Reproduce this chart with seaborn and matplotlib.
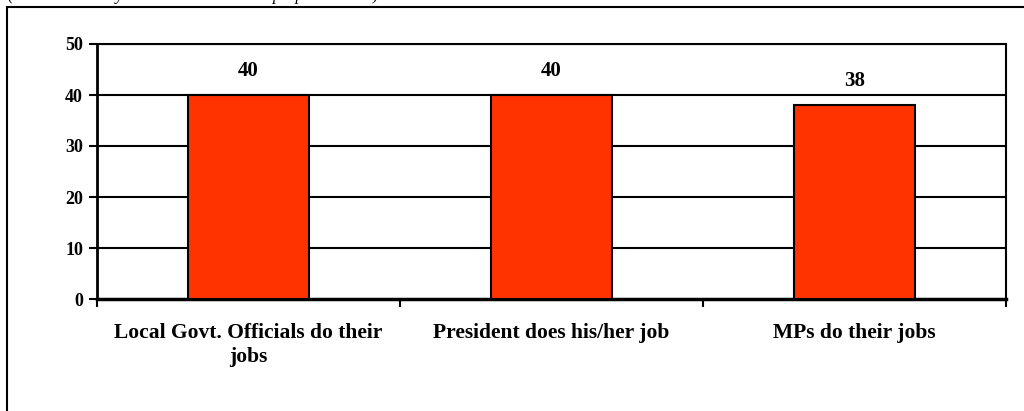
import matplotlib
matplotlib.use("Agg")
import matplotlib.pyplot as plt
from matplotlib.patches import Rectangle
import pandas as pd
import seaborn as sns

# data
categories = ["Local Govt. Officials do their\njobs",
              "President does his/her job",
              "MPs do their jobs"]
values = [40, 40, 38]
y_ticks = [0, 10, 20, 30, 40, 50]
note = "(Percent who say these leaders act in a proper manner)"

df = pd.DataFrame({"category": categories, "value": values})

sns.set_style("white")
plt.rcParams["font.family"] = ["Liberation Serif", "DejaVu Serif"]
plt.rcParams["text.color"] = "black"
plt.rcParams["xtick.color"] = "black"
plt.rcParams["ytick.color"] = "black"

fig = plt.figure(figsize=(10.24, 4.11), dpi=100)
ax = fig.add_axes([97 / 1024, 1 - 299 / 411, (1006 - 97) / 1024, (299 - 44) / 411])

sns.barplot(data=df, x="category", y="value", color="#FF3300", width=0.4,
            edgecolor="black", linewidth=1.5, saturation=1, ax=ax, zorder=3)

ax.set_ylim(0, 50)
ax.set_xlim(-0.5, len(categories) - 0.5)
ax.set_yticks(y_ticks)
ax.set_yticklabels([str(t) for t in y_ticks], fontsize=13, fontweight="bold")
for t in y_ticks[1:]:
    ax.axhline(t, color="black", lw=1.5, zorder=1)

# category ticks sit between the bars, labels centred under them
ax.set_xticks([i - 0.5 for i in range(len(categories) + 1)])
ax.set_xticklabels([])
ax.set_xticks(range(len(categories)), minor=True)
ax.set_xticklabels(categories, minor=True, fontsize=15.5, fontweight="bold",
                   linespacing=1.25)
ax.tick_params(axis="x", which="minor", length=0, pad=17.5)
ax.tick_params(axis="x", which="major", length=6, width=1.5, direction="out", bottom=True)
ax.tick_params(axis="y", length=6, width=1.5, direction="out", left=True, pad=4)
ax.set_xlabel("")
ax.set_ylabel("")

for s in ["left", "bottom", "right", "top"]:
    ax.spines[s].set_visible(True)
    ax.spines[s].set_color("black")
    ax.spines[s].set_linewidth(1.5)
ax.spines["left"].set_linewidth(2)
ax.spines["bottom"].set_linewidth(2.5)

for i, v in enumerate(values):
    ax.annotate(str(v), (i, v), xytext=(0, 10), textcoords="offset points",
                ha="center", va="bottom", fontsize=15, fontweight="bold")

# outer frame and the cut-off note at the very top
fig.patches.append(Rectangle((7 / 1024, -0.2), 1.2, 1.2 - 7 / 411,
                             transform=fig.transFigure, fill=False,
                             edgecolor="black", lw=1.5))
fig.text(8 / 1024, 1 - 0.5 / 411, note, fontsize=12, style="italic",
         ha="left", va="baseline")

fig.savefig("out.png", dpi=100)
